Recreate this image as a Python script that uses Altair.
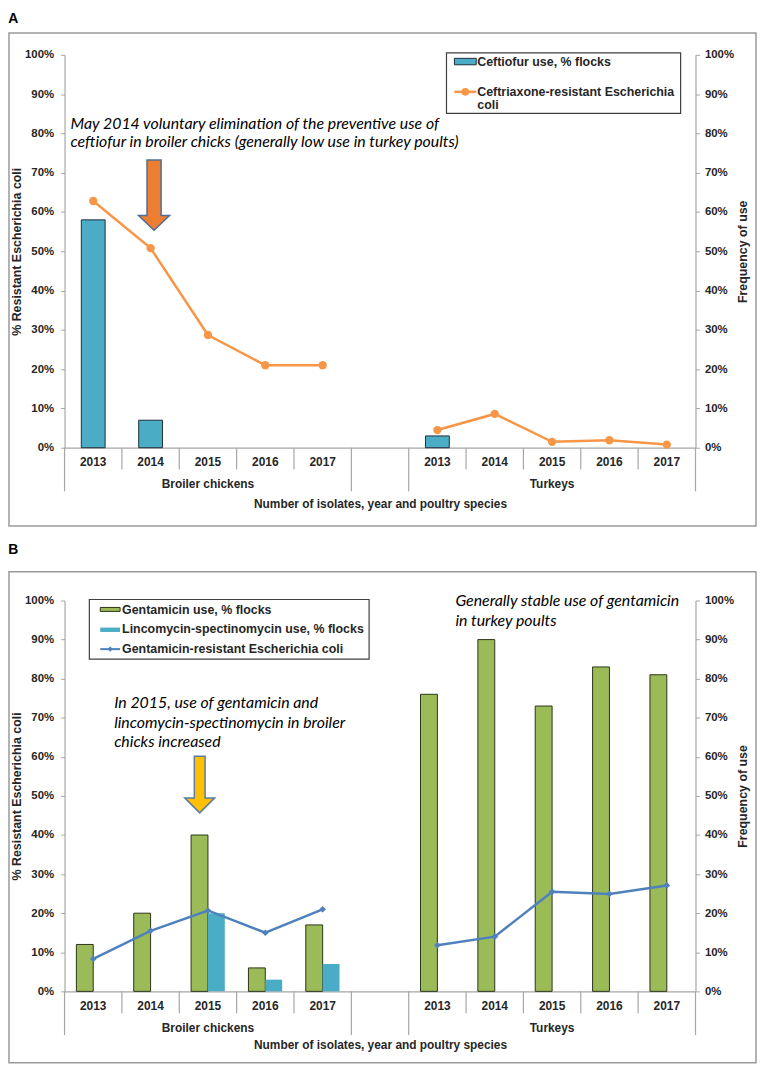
import altair as alt
import pandas as pd

# ---------------- data ----------------
years = ["2013", "2014", "2015", "2016", "2017"]
group_names = ["Broiler chickens", "Turkeys"]
group_keys = ["B", "T"]

# Panel A
ceftiofur_use_broiler = [58, 7, 0, 0, 0]
ceftiofur_use_turkey = [3, 0, 0, 0, 0]
ceftriaxone_res_broiler = [62.8, 50.8, 28.7, 21.0, 21.0]
ceftriaxone_res_turkey = [4.5, 8.6, 1.5, 1.9, 0.8]

# Panel B
gentamicin_use_broiler = [12, 20, 40, 6, 17]
gentamicin_use_turkey = [76, 90, 73, 83, 81]
linco_use_broiler = [0, 0, 20, 3, 7]
linco_use_turkey = [0, 0, 0, 0, 0]
gentamicin_res_broiler = [8.3, 15.5, 20.7, 15.0, 21.0]
gentamicin_res_turkey = [11.8, 14.0, 25.5, 24.9, 27.1]

slots = [f"B{y}" for y in years] + ["gap"] + [f"T{y}" for y in years]


def frame(broiler, turkey):
    rows = []
    for key, vals in (("B", broiler), ("T", turkey)):
        for y, v in zip(years, vals):
            rows.append({"slot": f"{key}{y}", "group": key, "value": v})
    return pd.DataFrame(rows)


# ---------------- style ----------------
AX_FONT = "Liberation Sans"
ANN_FONT = "Lato"
GRAY = "#A6A6A6"
TXT = "#262626"
W = 636
one = pd.DataFrame({"k": [0]})
XTITLE = "Number of isolates, year and poultry species"


def xenc(title_pad, bandPosition=None):
    kw = {}
    if bandPosition is not None:
        kw["bandPosition"] = bandPosition
    return alt.X(
        "slot:N",
        scale=alt.Scale(domain=slots, paddingInner=0, paddingOuter=0),
        axis=alt.Axis(
            labelExpr="datum.value == 'gap' ? '' : substring(datum.value, 1)",
            ticks=False, labelAngle=0, labelFont=AX_FONT, labelFontWeight="bold",
            labelFontSize=12, labelColor=TXT, labelPadding=9,
            domainColor=GRAY, domainWidth=1.2,
            title=XTITLE, titleFont=AX_FONT, titleFontWeight="bold", titleFontSize=12,
            titleColor=TXT, titlePadding=title_pad,
        ),
        **kw,
    )


def yaxis(orient, title):
    left = orient == "left"
    return alt.Axis(
        orient=orient, values=list(range(0, 101, 10)), labelExpr="datum.value + '%'",
        labelFont=AX_FONT, labelFontWeight="bold", labelFontSize=11.5, labelColor=TXT,
        tickSize=4, tickColor=GRAY, labelPadding=7 if left else 5,
        domainColor=GRAY, domainWidth=1.2, grid=False,
        title=title, titleFont=AX_FONT, titleFontWeight="bold", titleFontSize=12.5,
        titleColor=TXT, titlePadding=1 if left else 3, titleAngle=270,
        titleBaseline="bottom" if left else "top",
    )


def decorations(H, tpad, border):
    bl, bt, bb = border
    layers = []
    layers.append(
        alt.Chart(one).mark_rect(filled=False, stroke="#9A9A9A", strokeWidth=1.5).encode(
            x=alt.value(bl), x2=alt.value(W + 61), y=alt.value(bt), y2=alt.value(H + bb)
        )
    )
    short = pd.DataFrame({"slot": [f"{k}{y}" for k in group_keys for y in years[1:]]})
    longs = pd.DataFrame({"slot": ["B2013", "gap", "T2013"]})
    end = pd.DataFrame({"slot": ["T2017"]})
    layers.append(alt.Chart(short).mark_rule(color=GRAY, strokeWidth=1.2).encode(
        x=xenc(tpad, 0), y=alt.value(H), y2=alt.value(H + 22)))
    layers.append(alt.Chart(longs).mark_rule(color=GRAY, strokeWidth=1.2).encode(
        x=xenc(tpad, 0), y=alt.value(H), y2=alt.value(H + 44)))
    layers.append(alt.Chart(end).mark_rule(color=GRAY, strokeWidth=1.2).encode(
        x=xenc(tpad, 1), y=alt.value(H), y2=alt.value(H + 44)))
    glab = pd.DataFrame({"slot": [f"{k}{years[2]}" for k in group_keys], "name": group_names})
    layers.append(alt.Chart(glab).mark_text(
        font=AX_FONT, fontWeight="bold", fontSize=12, color=TXT, baseline="middle").encode(
        x=xenc(tpad), y=alt.value(H + 36.5), text="name:N"))
    return layers


def txt(x, y, text, **kw):
    base = dict(font=AX_FONT, fontWeight="bold", fontSize=12.5, color=TXT,
                align="left", baseline="alphabetic")
    base.update(kw)
    return alt.Chart(one).mark_text(text=text, **base).encode(x=alt.value(x), y=alt.value(y))


def arrow_path(shaft, head, base):
    return (f"M{-shaft},-1 L{shaft},-1 L{shaft},{base} L{head},{base} L0,1 "
            f"L{-head},{base} L{-shaft},{base} Z")


ANN = dict(font=ANN_FONT, fontWeight="normal", fontStyle="italic", fontSize=16, color="black")

# ---------------- panel A ----------------
HA = 396
TPA = 31
dfA_use = frame(ceftiofur_use_broiler, ceftiofur_use_turkey)
dfA_res = frame(ceftriaxone_res_broiler, ceftriaxone_res_turkey)

barsA = alt.Chart(dfA_use).transform_filter("datum.value > 0").mark_bar(
    size=24, color="#4BACC6", stroke="#1E2F3A", strokeWidth=1).encode(
    x=xenc(TPA),
    y=alt.Y("value:Q", scale=alt.Scale(domain=[0, 100]), axis=yaxis("right", "Frequency of use")),
)
lineA = alt.Chart(dfA_res).mark_line(
    color="#F79646", strokeWidth=2.5,
    point=alt.OverlayMarkDef(filled=True, size=70, color="#F79646", opacity=1)).encode(
    x=xenc(TPA),
    y=alt.Y("value:Q", scale=alt.Scale(domain=[0, 100]),
            axis=yaxis("left", "% Resistant Escherichia coli")),
    detail="group:N",
)
arrowA = alt.Chart(pd.DataFrame({"slot": ["B2014"], "value": [64.3]})).mark_point(
    shape=arrow_path(0.2, 0.44, 0.58), size=71 * 71, filled=True, fill="#ED7D31",
    stroke="#4F6E96", strokeWidth=1.5, opacity=1, xOffset=3.5).encode(
    x=xenc(TPA), y=alt.Y("value:Q", scale=alt.Scale(domain=[0, 100]), axis=None),
)
LAX = 385
legendA = [
    alt.Chart(one).mark_rect(fill="white", stroke="#404040", strokeWidth=1.2).encode(
        x=alt.value(LAX), x2=alt.value(LAX + 236), y=alt.value(-2), y2=alt.value(59)),
    alt.Chart(one).mark_rect(fill="#4BACC6", stroke="#1E2F3A", strokeWidth=1).encode(
        x=alt.value(LAX + 8), x2=alt.value(LAX + 30), y=alt.value(3.5), y2=alt.value(10)),
    txt(LAX + 31, 11, "Ceftiofur use, % flocks"),
    alt.Chart(one).mark_rule(color="#F79646", strokeWidth=2.5).encode(
        x=alt.value(LAX + 8), x2=alt.value(LAX + 30), y=alt.value(37.3)),
    alt.Chart(one).mark_point(filled=True, size=60, color="#F79646", opacity=1).encode(
        x=alt.value(LAX + 19), y=alt.value(37.3)),
    txt(LAX + 31, 41.7, ["Ceftriaxone-resistant Escherichia", "coli"], lineHeight=13.3),
]
annA = txt(6, 74.5, ["May 2014 voluntary elimination of the preventive use of",
                     "ceftiofur in broiler chicks (generally low use in turkey poults)"],
           lineHeight=18.5, **ANN)

panelA = alt.layer(
    *decorations(HA, TPA, (-56, -22, 79)), barsA, lineA, *legendA, annA, arrowA
).resolve_scale(y="independent").properties(
    width=W, height=HA,
    title=alt.TitleParams("A", anchor="start", frame="bounds", font=AX_FONT, fontSize=14,
                          fontWeight="bold", color="black", offset=6),
)

# ---------------- panel B ----------------
HB = 394
TPB = 29
dfB_gent = frame(gentamicin_use_broiler, gentamicin_use_turkey)
dfB_linco = frame(linco_use_broiler, linco_use_turkey)
dfB_res = frame(gentamicin_res_broiler, gentamicin_res_turkey)

gentB = alt.Chart(dfB_gent).transform_filter("datum.value > 0").mark_bar(
    size=17, color="#9BBB59", stroke="#2B3518", strokeWidth=1, xOffset=-8.5).encode(
    x=xenc(TPB),
    y=alt.Y("value:Q", scale=alt.Scale(domain=[0, 100]), axis=yaxis("right", "Frequency of use")),
)
lincoB = alt.Chart(dfB_linco).transform_filter("datum.value > 0").mark_bar(
    size=17, color="#4BACC6", xOffset=8.5).encode(
    x=xenc(TPB),
    y=alt.Y("value:Q", scale=alt.Scale(domain=[0, 100]), axis=None),
)
lineB = alt.Chart(dfB_res).mark_line(
    color="#4F81BD", strokeWidth=2.5,
    point=alt.OverlayMarkDef(filled=True, size=45, shape="diamond", color="#4F81BD", opacity=1)).encode(
    x=xenc(TPB),
    y=alt.Y("value:Q", scale=alt.Scale(domain=[0, 100]),
            axis=yaxis("left", "% Resistant Escherichia coli")),
    detail="group:N",
)
arrowB = alt.Chart(pd.DataFrame({"slot": ["B2015"], "value": [52.9]})).mark_point(
    shape=arrow_path(0.19, 0.53, 0.47), size=57 * 57, filled=True, fill="#FFC000",
    stroke="#5B7BA3", strokeWidth=1.5, opacity=1, xOffset=-8.3).encode(
    x=xenc(TPB), y=alt.Y("value:Q", scale=alt.Scale(domain=[0, 100]), axis=None),
)
LBX = 25
legendB = [
    alt.Chart(one).mark_rect(fill="white", stroke="#404040", strokeWidth=1.2).encode(
        x=alt.value(LBX), x2=alt.value(LBX + 282), y=alt.value(-1), y2=alt.value(59)),
    alt.Chart(one).mark_rect(fill="#9BBB59", stroke="#2B3518", strokeWidth=1).encode(
        x=alt.value(LBX + 11), x2=alt.value(LBX + 31), y=alt.value(7), y2=alt.value(11)),
    txt(LBX + 33, 13.3, "Gentamicin use, % flocks"),
    alt.Chart(one).mark_rect(fill="#4BACC6").encode(
        x=alt.value(LBX + 11), x2=alt.value(LBX + 31), y=alt.value(27.3), y2=alt.value(31.7)),
    txt(LBX + 33, 33, "Lincomycin-spectinomycin use, % flocks"),
    alt.Chart(one).mark_rule(color="#4F81BD", strokeWidth=2).encode(
        x=alt.value(LBX + 11), x2=alt.value(LBX + 31), y=alt.value(49)),
    alt.Chart(one).mark_point(filled=True, size=30, shape="diamond", color="#4F81BD", opacity=1).encode(
        x=alt.value(LBX + 21), y=alt.value(49)),
    txt(LBX + 33, 53.3, "Gentamicin-resistant  Escherichia coli"),
]
annB1 = txt(50, 108.7, ["In 2015, use of gentamicin and",
                        "lincomycin-spectinomycin in broiler",
                        "chicks increased"],
            lineHeight=19.5, **ANN)
annB2 = txt(394, 5.7, ["Generally stable use of gentamicin", "in turkey poults"],
            lineHeight=19.6, **ANN)

panelB = alt.layer(
    *decorations(HB, TPB, (-56, -29, 72)), gentB, lincoB, lineB, *legendB, annB1, annB2, arrowB
).resolve_scale(y="independent").properties(
    width=W, height=HB,
    title=alt.TitleParams("B", anchor="start", frame="bounds", font=AX_FONT, fontSize=14,
                          fontWeight="bold", color="black", offset=14),
)

chart = alt.vconcat(panelA, panelB, spacing=16).properties(
    padding=0, background="white"
).configure_view(stroke=None)

chart.save("out.html", embed_options={"renderer": "svg", "actions": False})
